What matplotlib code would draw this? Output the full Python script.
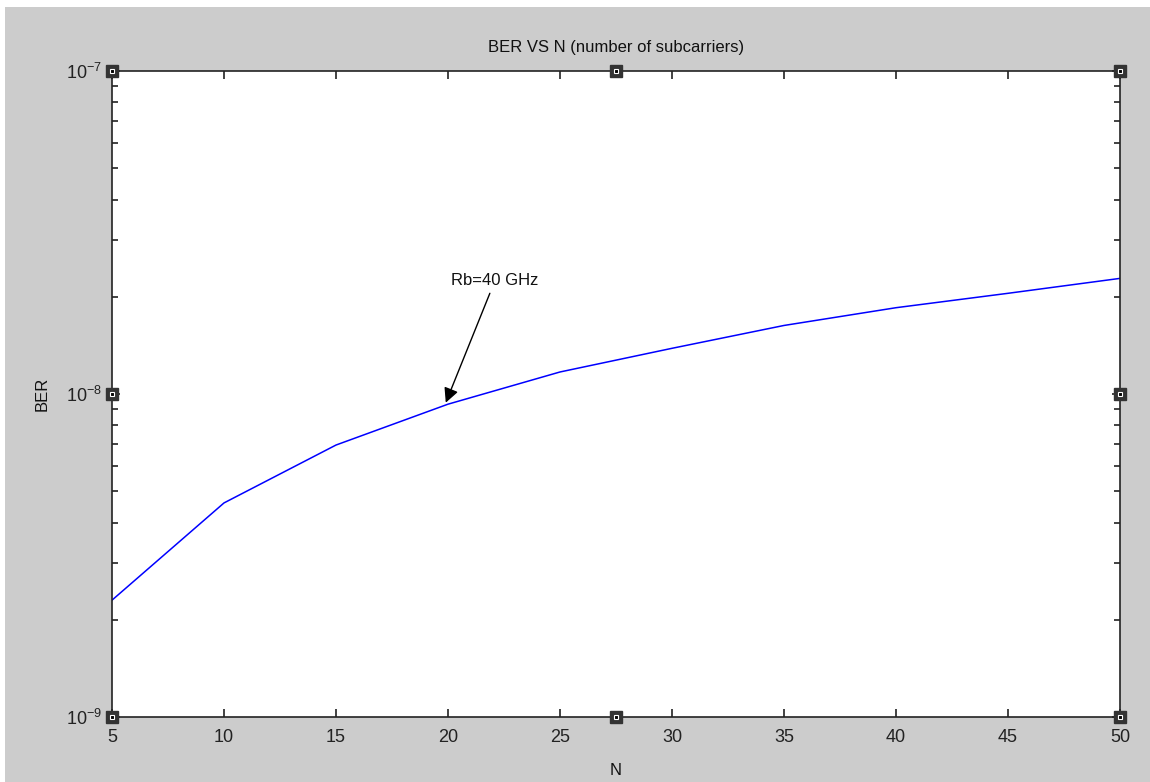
import matplotlib
matplotlib.use("Agg")
import matplotlib.pyplot as plt
import matplotlib.patches as mpatches
from matplotlib.ticker import LogLocator, FixedLocator, NullFormatter, LogFormatterSciNotation

N = [5, 10, 15, 20, 25, 30, 35, 40, 45, 50]
BER = [2.3e-9, 4.6e-9, 6.95e-9, 9.3e-9, 1.17e-8, 1.385e-8, 1.63e-8, 1.85e-8, 2.05e-8, 2.28e-8]
x_ticks = [5, 10, 15, 20, 25, 30, 35, 40, 45, 50]
y_ticks = [1e-9, 1e-8, 1e-7]
title = "BER VS N (number of subcarriers)"
annot_text = "Rb=40 GHz"
annot_xy = (19.9, 9.4e-9)
annot_text_xy = (22.1, 2.13e-8)

plt.rcParams['font.family'] = ['Liberation Sans', 'DejaVu Sans']
plt.rcParams['mathtext.default'] = 'regular'
plt.rcParams['axes.unicode_minus'] = False

W, H = 1150, 782
fig = plt.figure(figsize=(W / 100, H / 100), dpi=100, facecolor='white')
# gray figure background with a thin white margin top and left
fig.patches.append(mpatches.Rectangle((5 / W, 0), 1 - 5 / W, 1 - 7 / H,
                                      transform=fig.transFigure,
                                      facecolor='#cccccc', edgecolor='none', zorder=-10))

ax = fig.add_axes([112 / W, 1 - 717 / H, (1120 - 112) / W, (717 - 71) / H])
ax.set_zorder(5)
ax.set_facecolor('white')
ax.plot(N, BER, color='#0000ff', lw=1.1)
ax.set_yscale('log')
ax.set_xlim(5, 50)
ax.set_ylim(1e-9, 1e-7)
ax.xaxis.set_major_locator(FixedLocator(x_ticks))
ax.set_xticklabels([str(v) for v in x_ticks])
ax.yaxis.set_major_locator(FixedLocator(y_ticks))
ax.yaxis.set_major_formatter(LogFormatterSciNotation())
ax.yaxis.set_minor_locator(LogLocator(base=10, subs=range(2, 10), numticks=20))
ax.yaxis.set_minor_formatter(NullFormatter())
ax.tick_params(which='both', direction='in', top=True, right=True,
               labelsize=13, colors='#222222', width=1.2)
ax.tick_params(which='major', length=6)
ax.tick_params(axis='x', which='major', pad=9)
ax.tick_params(axis='y', which='major', pad=7)
ax.tick_params(which='minor', length=4)
for s in ax.spines.values():
    s.set_color('#222222')
    s.set_linewidth(1.2)

ax.set_title(title, fontsize=12, color='#111111', pad=14)
ax.set_xlabel("N", fontsize=12, color='#111111', labelpad=12)
ax.set_ylabel("BER", fontsize=12, color='#111111', labelpad=12)

ax.annotate(annot_text, xy=annot_xy, xytext=annot_text_xy,
            fontsize=12, color='#111111', ha='center', va='bottom',
            arrowprops=dict(arrowstyle='-|>', color='black', lw=1.0,
                            mutation_scale=22, shrinkA=2, shrinkB=0))

# selection handles
handle_pos = [(0, 0), (0, 1), (1, 0), (1, 1), (0.5, 0), (0.5, 1), (0, 0.5), (1, 0.5)]
for hx, hy in handle_pos:
    ax.plot([hx], [hy], marker='s', markersize=8.5, color='#333333',
            markeredgecolor='#333333', transform=ax.transAxes, clip_on=False, zorder=10)
    ax.plot([hx], [hy], marker='s', markersize=3.5, color='black',
            markeredgecolor='white', markeredgewidth=0.8,
            transform=ax.transAxes, clip_on=False, zorder=11)

fig.savefig("out.png", dpi=100, facecolor=fig.get_facecolor())
